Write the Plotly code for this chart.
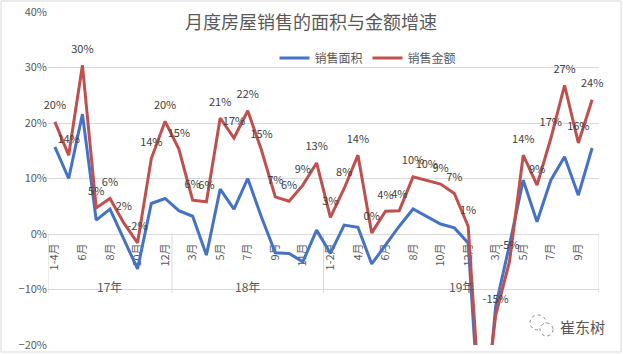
import plotly.graph_objects as go

# ---- data ----
groups = ["17年", "18年", "19年"]
group_sizes = [9, 11, 20]
months = (["1-4月", "5月", "6月", "7月", "8月", "9月", "10月", "11月", "12月"]
          + ["1-2月", "3月", "4月", "5月", "6月", "7月", "8月", "9月", "10月", "11月", "12月"]
          + ["1-2月", "3月", "4月", "5月", "6月", "7月", "8月", "9月", "10月", "11月", "12月"]
          + ["1-2月", "3月", "4月", "5月", "6月", "7月", "8月", "9月", "10月"])

area = [15.7, 10.0, 21.6, 2.5, 4.5, -0.8, -6.3, 5.5, 6.4,
        4.2, 3.2, -3.8, 8.1, 4.5, 10.0, 3.0, -3.4, -3.5, -5.0, 0.7,
        -3.5, 1.6, 1.2, -5.4, -2.0, 1.4, 4.5, 3.1, 1.8, 1.1, -1.6,
        -39.9, -13.0, -2.0, 9.7, 2.2, 9.7, 13.9, 7.0, 15.5]
amount = [20.2, 14.2, 30.4, 4.7, 6.4, 2.0, -1.6, 13.6, 20.3,
          15.3, 6.1, 5.8, 20.9, 17.3, 22.2, 15.1, 6.7, 5.9, 8.8, 12.8,
          3.0, 8.2, 14.2, 0.2, 4.1, 4.2, 10.3, 9.7, 9.0, 7.3, 1.4,
          -35.9, -14.6, -5.0, 14.2, 8.8, 17.2, 26.8, 16.4, 24.2]

title = "月度房屋销售的面积与金额增速"
names = ["销售面积", "销售金额"]
y_range = [-20, 40]

# ---- layout constants ----
W, H = 623, 354
L, R, T, B = 48, 24, 12, 9
FONT = "Noto Sans CJK SC"
GRAY = "#595959"
GRID = "#d9d9d9"
BLUE = "#4472C4"
RED = "#C0504D"

x = list(range(len(months)))

fig = go.Figure()
fig.add_trace(go.Scatter(x=x, y=area, mode="lines", name=names[0],
                         line=dict(color=BLUE, width=3)))
fig.add_trace(go.Scatter(x=x, y=amount, mode="lines+markers+text", name=names[1],
                         line=dict(color=RED, width=3),
                         marker=dict(size=14, color="rgba(0,0,0,0)"),
                         cliponaxis=False,
                         text=[f"{v:.0f}%" if y_range[0] <= v <= y_range[1] else ""
                               for v in amount],
                         textposition="top center",
                         textfont=dict(family=FONT, size=11, color="#404040")))

# group separators & labels
shapes = []
annotations = []
start = 0
bounds = [-0.5]
for g, n in zip(groups, group_sizes):
    end = start + n
    bounds.append(end - 0.5)
    annotations.append(dict(x=(start + end - 1) / 2, y=-9.5, xref="x", yref="y",
                            text=g, showarrow=False, yanchor="middle",
                            font=dict(family=FONT, size=12, color=GRAY)))
    start = end
for b in bounds:
    shapes.append(dict(type="line", xref="x", yref="y", x0=b, x1=b, y0=0, y1=-10.6,
                       line=dict(color=GRID, width=1), layer="below"))

pw, ph = W - L - R, H - T - B
def px(xp):
    return (xp - L) / pw
def py(yp):
    return (H - B - yp) / ph

# outer frame
shapes.append(dict(type="rect", xref="paper", yref="paper",
                   x0=px(1), x1=px(W - 2), y0=py(H - 2), y1=py(1),
                   line=dict(color=GRID, width=1)))
# watermark icon
shapes.append(dict(type="circle", xref="paper", yref="paper",
                   x0=px(530), x1=px(546), y0=py(330), y1=py(315),
                   line=dict(color="#888", width=1, dash="dot")))
shapes.append(dict(type="circle", xref="paper", yref="paper",
                   x0=px(540), x1=px(553), y0=py(336), y1=py(323),
                   line=dict(color="#888", width=1, dash="dot"), fillcolor="white"))
annotations.append(dict(x=px(582), y=py(326), xref="paper", yref="paper",
                        xanchor="center", yanchor="middle",
                        text="崔东树", showarrow=False,
                        font=dict(family=FONT, size=15, color="#555")))

fig.update_layout(
    width=W, height=H,
    margin=dict(l=L, r=R, t=T, b=B, autoexpand=False),
    paper_bgcolor="white", plot_bgcolor="white",
    title=dict(text=title, x=311 / W, xanchor="center", y=1 - 23 / H, yanchor="middle",
               xref="container", yref="container",
               font=dict(family=FONT, size=18, color=GRAY)),
    legend=dict(orientation="h", xref="container", yref="container",
                x=368 / W, xanchor="center", y=1 - 58 / H, yanchor="middle",
                font=dict(family=FONT, size=12, color=GRAY),
                bgcolor="rgba(0,0,0,0)", itemwidth=30),
    showlegend=True,
    xaxis=dict(range=[-0.5, len(months) - 0.5], tickmode="array",
               tickvals=x[::2], ticktext=months[::2], tickangle=-90,
               anchor="free", position=20 / 60, showline=True, linecolor=GRID,
               showgrid=False, zeroline=False, ticks="", ticklabelstandoff=4,
               tickfont=dict(family=FONT, size=11, color=GRAY),
               layer="below traces", automargin=False),
    yaxis=dict(range=y_range, dtick=10, ticksuffix="%", gridcolor=GRID,
               zeroline=False, showline=False, ticks="",
               tickfont=dict(family=FONT, size=11, color=GRAY),
               automargin=False),
    shapes=shapes, annotations=annotations,
)

fig.write_html("out.html")
